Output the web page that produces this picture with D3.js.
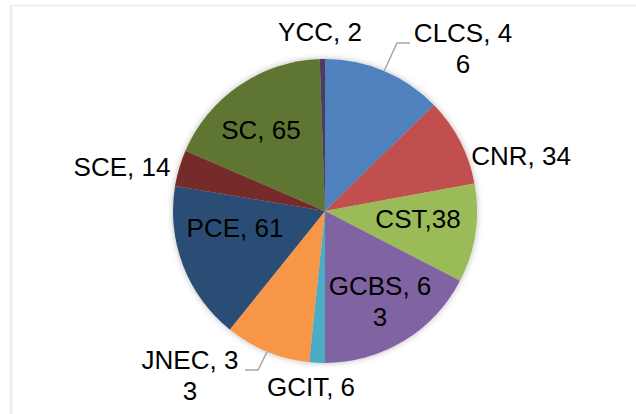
<!DOCTYPE html>
<html>
<head>
<meta charset="utf-8">
<script src="https://cdn.jsdelivr.net/npm/d3@7"></script>
<style>
  html, body { margin: 0; padding: 0; background: #fff; }
  svg { display: block; }
</style>
</head>
<body>
<svg id="chart"></svg>
<script>
// data, clockwise from 12 o'clock
const categories = ["CLCS", "CNR", "CST", "GCBS", "GCIT", "JNEC", "PCE", "SCE", "SC", "YCC"]
const values = [46, 34, 38, 63, 6, 33, 61, 14, 65, 2]
const labelLines = [
  ["CLCS, 4", "6"], ["CNR, 34"], ["CST,38"], ["GCBS, 6", "3"], ["GCIT, 6"],
  ["JNEC, 3", "3"], ["PCE, 61"], ["SCE, 14"], ["SC, 65"], ["YCC, 2"]
]
const colors = ["#4F81BD", "#C0504D", "#9BBB59", "#8064A2", "#4BACC6",
                "#F79646", "#2C4D75", "#772C2A", "#5F7530", "#4D3B62"]

// where the label text sits (centre x, first baseline) and the elbow of a leader line
const labelPos = {
  CLCS: { x: 463, y: 42, elbow: [397, 43], end: 410 },
  CNR: { x: 521, y: 165 },
  CST: { x: 418, y: 228 },
  GCBS: { x: 380, y: 295 },
  GCIT: { x: 311, y: 396 },
  JNEC: { x: 190, y: 369, elbow: [258, 370], end: 245 },
  PCE: { x: 235, y: 237 },
  SCE: { x: 122, y: 176 },
  SC: { x: 261, y: 139 },
  YCC: { x: 320, y: 41 }
}

var svgWidth = 636, svgHeight = 414
var cx = 325, cy = 211, radius = 152

var svg = d3.select("#chart")
  .attr("width", svgWidth)
  .attr("height", svgHeight)

// chart frame (only top and left edges visible in the crop)
svg.append("line")
  .attr("x1", 11).attr("x2", svgWidth)
  .attr("y1", 5.5).attr("y2", 5.5)
  .attr("stroke", "#EFECE3").attr("stroke-width", 1.5)
svg.append("line")
  .attr("x1", 11).attr("x2", 11)
  .attr("y1", 5).attr("y2", svgHeight)
  .attr("stroke", "#EEEBE1").attr("stroke-width", 2.5)

var defs = svg.append("defs")
var shadow = defs.append("filter").attr("id", "glow")
  .attr("x", "-20%").attr("y", "-20%").attr("width", "140%").attr("height", "140%")
shadow.append("feDropShadow")
  .attr("dx", 0).attr("dy", 0)
  .attr("stdDeviation", 3)
  .attr("flood-color", "#000")
  .attr("flood-opacity", 0.28)

const data = categories.map((c, i) => ({ name: c, value: values[i], lines: labelLines[i], color: colors[i] }))

const pie = d3.pie()
  .value(d => d.value)
  .sort(null)

const arc = d3.arc()
  .innerRadius(0)
  .outerRadius(radius)

const g = svg.append("g")
  .attr("transform", "translate(" + cx + "," + cy + ")")

const arcs = pie(data)

g.append("g")
  .attr("filter", "url(#glow)")
  .selectAll("path")
  .data(arcs)
  .enter().append("path")
  .attr("d", arc)
  .attr("fill", d => d.data.color)

// leader lines from the rim at the slice's mid angle
arcs.forEach(d => {
  const p = labelPos[d.data.name]
  if (!p.elbow) return
  const mid = (d.startAngle + d.endAngle) / 2
  const sx = cx + radius * Math.sin(mid)
  const sy = cy - radius * Math.cos(mid)
  svg.append("polyline")
    .attr("points", [[sx, sy], p.elbow, [p.end, p.elbow[1]]].map(q => q.join(",")).join(" "))
    .attr("fill", "none")
    .attr("stroke", "#A6A6A6")
    .attr("stroke-width", 1.5)
})

const labels = svg.append("g")
  .attr("font-family", "'Liberation Sans', Arial, sans-serif")
  .attr("font-size", "26px")
  .attr("fill", "#000")
  .attr("text-anchor", "middle")

arcs.forEach(d => {
  const p = labelPos[d.data.name]
  const t = labels.append("text")
    .attr("x", p.x)
    .attr("y", p.y)
  d.data.lines.forEach((line, i) => {
    t.append("tspan")
      .attr("x", p.x)
      .attr("dy", i === 0 ? 0 : 31)
      .text(line)
  })
})
</script>
</body>
</html>
